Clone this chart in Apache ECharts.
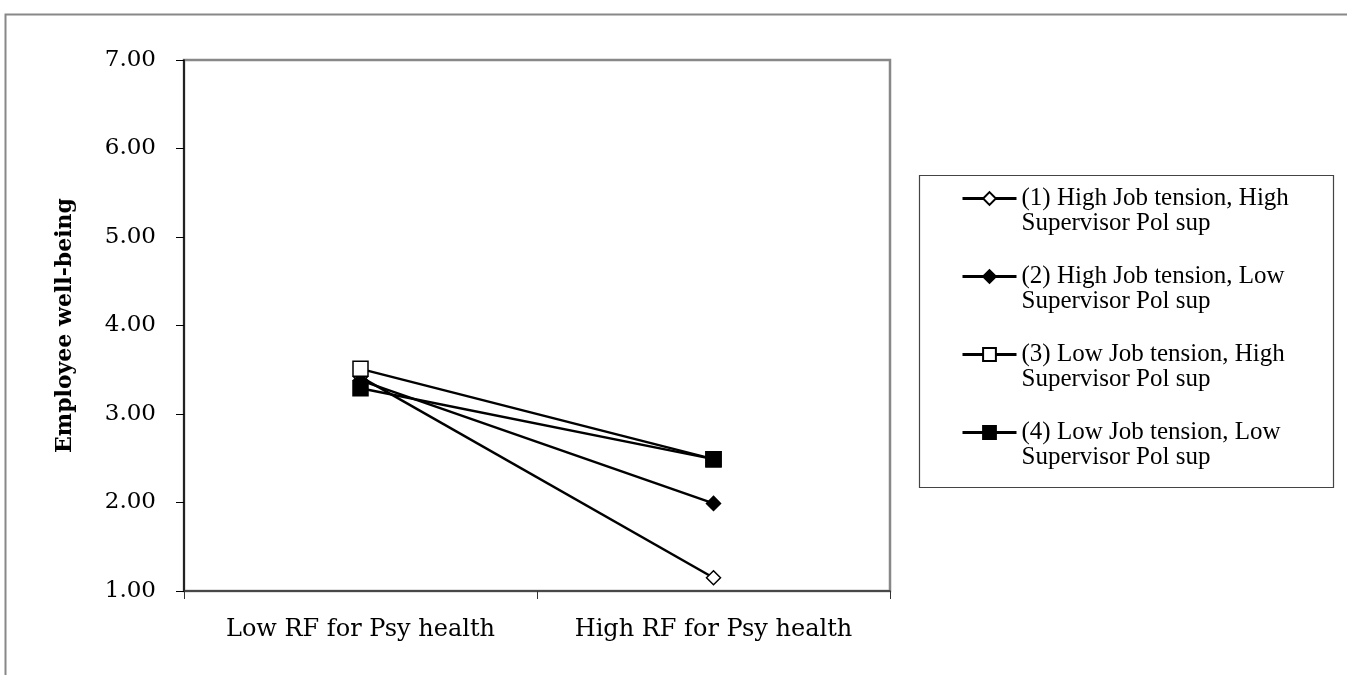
<!DOCTYPE html>
<html>
<head>
<meta charset="utf-8">
<script src="https://cdn.jsdelivr.net/npm/echarts@6/dist/echarts.min.js"></script>
<style>
html,body{margin:0;padding:0;background:#fff;}
#chart{width:1347px;height:675px;}
</style>
</head>
<body>
<div id="chart"></div>
<script>
const categories = ['Low RF for Psy health', 'High RF for Psy health'];
const seriesNames = [
  '(1) High Job tension, High\nSupervisor Pol sup',
  '(2) High Job tension, Low\nSupervisor Pol sup',
  '(3) Low Job tension, High\nSupervisor Pol sup',
  '(4) Low Job tension, Low\nSupervisor Pol sup'
];
const s1Values = [3.42, 1.15];
const s2Values = [3.38, 1.99];
const s3Values = [3.51, 2.49];
const s4Values = [3.29, 2.49];
const yTicks = { min: 1, max: 7, interval: 1 };

const chart = echarts.init(document.getElementById('chart'));

function mkSeries(name, data, symbol, filled, size) {
  return {
    name: name,
    type: 'line',
    data: data,
    symbol: symbol,
    symbolSize: size,
    showAllSymbol: true,
    lineStyle: { color: '#000', width: 2.5 },
    itemStyle: { color: filled ? '#000' : '#fff', borderColor: '#000', borderWidth: 1.5 },
    emphasis: { disabled: true },
    animation: false
  };
}

chart.setOption({
  backgroundColor: '#fff',
  animation: false,
  grid: {
    left: 184, top: 60, right: 457, bottom: 84,
    show: true, borderColor: '#888', borderWidth: 2.5, backgroundColor: 'transparent'
  },
  graphic: [
    { type: 'rect', left: 3, top: 12, shape: { width: 1400, height: 700 },
      style: { fill: 'none', stroke: '#888', lineWidth: 2 }, silent: true },
    { type: 'rect', left: 917, top: 173, shape: { width: 414, height: 312 },
      style: { fill: 'none', stroke: '#444', lineWidth: 1.2 }, silent: true }
  ],
  legend: {
    orient: 'vertical',
    left: 956, top: 156,
    itemWidth: 54, itemHeight: 16,
    itemGap: 3,
    lineStyle: { width: 3 },
    formatter: name => ' \n' + name,
    textStyle: { fontFamily: 'Liberation Serif', fontSize: 25, color: '#000', lineHeight: 25 },
    data: seriesNames
  },
  xAxis: {
    type: 'category',
    data: categories,
    boundaryGap: true,
    axisLine: { lineStyle: { color: '#333', width: 1.5 } },
    axisTick: { show: true, interval: 0, length: 8, lineStyle: { color: '#333' } },
    axisLabel: { fontFamily: 'DejaVu Serif', fontSize: 24, color: '#000', margin: 27, interval: 0 }
  },
  yAxis: {
    type: 'value',
    min: yTicks.min, max: yTicks.max, interval: yTicks.interval,
    name: 'Employee well-being',
    nameLocation: 'middle',
    nameGap: 108,
    nameTextStyle: { fontFamily: 'DejaVu Serif', fontSize: 22, fontWeight: 'bold', color: '#000' },
    axisLine: { show: true, lineStyle: { color: '#000', width: 1.5 } },
    axisTick: { show: true, length: 8, lineStyle: { color: '#000' } },
    splitLine: { show: false },
    axisLabel: { fontFamily: 'DejaVu Serif', fontSize: 23, color: '#000', margin: 28,
      formatter: v => v.toFixed(2) }
  },
  series: [
    mkSeries(seriesNames[0], s1Values, 'diamond', false, 14),
    mkSeries(seriesNames[1], s2Values, 'diamond', true, 14),
    mkSeries(seriesNames[2], s3Values, 'rect', false, 15),
    mkSeries(seriesNames[3], s4Values, 'rect', true, 15)
  ]
});
</script>
</body>
</html>
